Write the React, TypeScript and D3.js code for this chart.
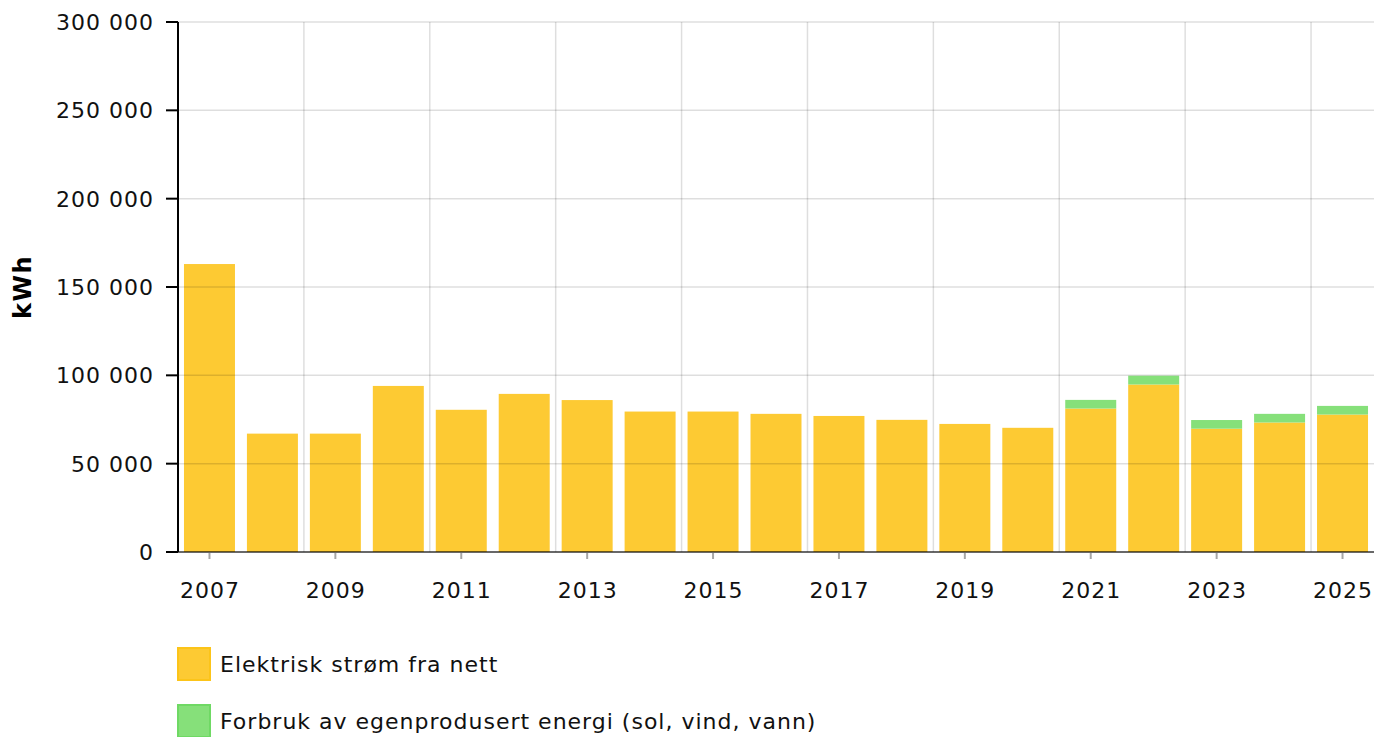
import React, { useEffect, useRef } from 'react';
import * as d3 from 'd3';

const years = ['2007', '2008', '2009', '2010', '2011', '2012', '2013', '2014', '2015', '2016',
  '2017', '2018', '2019', '2020', '2021', '2022', '2023', '2024', '2025'];
const gridPower = [163000, 67000, 67000, 94000, 80500, 89500, 86000, 79500, 79500, 78200,
  77000, 74800, 72500, 70300, 81200, 94800, 69800, 73300, 77800];
const ownProduced = [0, 0, 0, 0, 0, 0, 0, 0, 0, 0,
  0, 0, 0, 0, 4900, 5000, 4900, 4900, 4900];
const yTicks = [0, 50000, 100000, 150000, 200000, 250000, 300000];
const seriesNames = ['Elektrisk strøm fra nett', 'Forbruk av egenprodusert energi (sol, vind, vann)'];
const seriesFill = ['#fdca33', '#86e07a'];
const seriesStroke = ['#fcc419', '#6fd964'];

const App = () => {
  const svgRef = useRef(null);

  useEffect(() => {
    const margin = { top: 22, right: 12, bottom: 185, left: 178 };
    const W = 1386, H = 737;
    const width = W - margin.left - margin.right;
    const height = H - margin.top - margin.bottom;
    const font = 'DejaVu Sans';

    const root = d3.select(svgRef.current);
    root.selectAll('*').remove();
    const svg = root.append('g').attr('transform', `translate(${margin.left},${margin.top})`);

    const x = d3.scaleBand().domain(years).range([0, width]).paddingInner(0.19).paddingOuter(0.095);
    const y = d3.scaleLinear().domain([0, 300000]).range([height, 0]);
    const step = x.step();
    const fmt = (v: number) => d3.format(',')(v).replace(/,/g, ' ');

    const data = years.map((yr, i) => ({ year: yr, a: gridPower[i], b: ownProduced[i] }));

    // bars
    svg.selectAll('.bar-a').data(data).enter().append('rect')
      .attr('x', d => x(d.year)!)
      .attr('width', x.bandwidth())
      .attr('y', d => y(d.a))
      .attr('height', d => height - y(d.a))
      .attr('fill', seriesFill[0]);
    svg.selectAll('.bar-b').data(data.filter(d => d.b > 0)).enter().append('rect')
      .attr('x', d => x(d.year)!)
      .attr('width', x.bandwidth())
      .attr('y', d => y(d.a + d.b))
      .attr('height', d => y(d.a) - y(d.a + d.b))
      .attr('fill', seriesFill[1]);

    // grid
    yTicks.forEach(t => {
      svg.append('line').attr('x1', 0).attr('x2', width).attr('y1', y(t)).attr('y2', y(t))
        .attr('stroke', 'rgba(0,0,0,0.13)').attr('stroke-width', 1.5);
    });
    years.forEach((yr, i) => {
      if (i % 2 === 0 && i > 0) {
        const gx = x(yr)! - (step - x.bandwidth()) / 2;
        svg.append('line').attr('x1', gx).attr('x2', gx).attr('y1', 0).attr('y2', height)
          .attr('stroke', 'rgba(0,0,0,0.13)').attr('stroke-width', 1.5);
      }
    });

    // x axis
    svg.append('line').attr('x1', 0).attr('x2', width).attr('y1', height).attr('y2', height)
      .attr('stroke', 'rgba(0,0,0,0.55)').attr('stroke-width', 2);
    years.forEach((yr, i) => {
      if (i % 2 !== 0) return;
      const cx = x(yr)! + x.bandwidth() / 2;
      svg.append('line').attr('x1', cx).attr('x2', cx).attr('y1', height + 1).attr('y2', height + 7)
        .attr('stroke', 'rgba(0,0,0,0.35)').attr('stroke-width', 2);
      svg.append('text').attr('x', cx + 0.5).attr('y', height + 46).attr('text-anchor', 'middle')
        .attr('font-family', font).attr('font-size', 22).attr('letter-spacing', 1)
        .attr('fill', '#111').text(yr);
    });

    // y axis
    svg.append('line').attr('x1', 0).attr('x2', 0).attr('y1', 0).attr('y2', height)
      .attr('stroke', '#000').attr('stroke-width', 2);
    yTicks.forEach(t => {
      svg.append('line').attr('x1', -12).attr('x2', 0).attr('y1', y(t)).attr('y2', y(t))
        .attr('stroke', '#000').attr('stroke-width', 2);
      svg.append('text').attr('x', -24).attr('y', y(t)).attr('dy', '0.36em').attr('text-anchor', 'end')
        .attr('font-family', font).attr('font-size', 22).attr('letter-spacing', 1)
        .attr('fill', '#111').text(fmt(t));
    });
    svg.append('text').attr('transform', `translate(${22 - margin.left},${287 - margin.top}) rotate(-90)`)
      .attr('text-anchor', 'middle').attr('dy', '0.36em')
      .attr('font-family', font).attr('font-weight', 'bold').attr('font-size', 24)
      .attr('letter-spacing', 1.5).attr('fill', '#000').text('kWh');

    // legend
    seriesNames.forEach((name, i) => {
      const ly = 648 + i * 57 - margin.top;
      svg.append('rect').attr('x', 0).attr('y', ly).attr('width', 32).attr('height', 32)
        .attr('fill', seriesFill[i]).attr('stroke', seriesStroke[i]).attr('stroke-width', 2);
      svg.append('text').attr('x', 42).attr('y', ly + 16).attr('dy', '0.36em')
        .attr('font-family', font).attr('font-size', 22).attr('letter-spacing', 1)
        .attr('fill', '#111').text(name);
    });
  }, []);

  return <svg ref={svgRef} width={1386} height={737} style={{ position: 'absolute', left: 0, top: 0 }}></svg>;
};

export default App;
